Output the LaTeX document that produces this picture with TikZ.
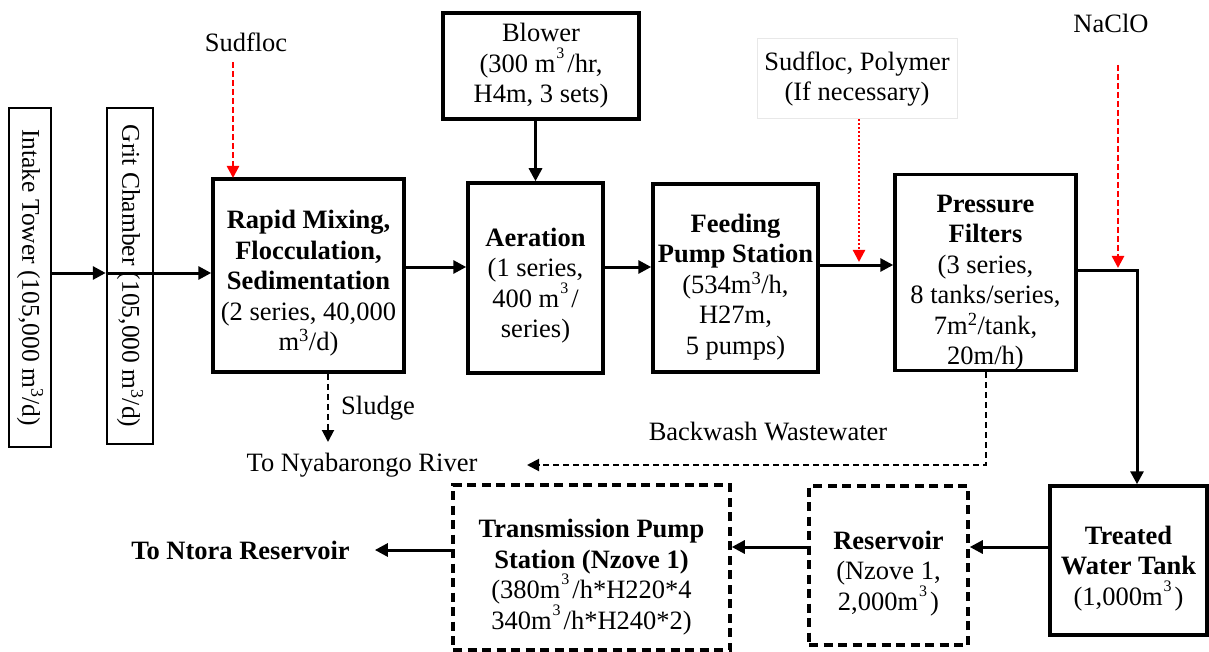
\documentclass[tikz,border=0pt]{standalone}
\usepackage{fontspec}
\setmainfont{Liberation Serif}
\usetikzlibrary{arrows.meta}

% body text size used throughout the flow sheet
\newcommand{\flowfont}{\fontsize{26.5}{30.5}\selectfont}
% superscript set high above the unit, as in the printed sheet
\newcommand{\hsup}[1]{\kern1pt\raisebox{14pt}{\fontsize{16}{16}\selectfont #1}\kern3pt}
% extra room above the first line of a unit's text
\newcommand{\topgap}[1]{\rule{0pt}{#1}}

\tikzset{
  unit/.style={draw, line width=3.5pt, align=center, inner sep=0pt, font=\flowfont},
  plannedunit/.style={unit, dash pattern=on 9pt off 5.5pt},
  inlet/.style={draw, line width=2.5pt, align=center, inner sep=0pt,
    font=\fontsize{25.5}{28}\selectfont, rotate=-90},
  label/.style={align=center, inner sep=0pt, font=\flowfont},
  flow/.style={line width=3pt, -{Triangle[length=13pt,width=13pt]}},
  dose/.style={red, line width=2.5pt, dash pattern=on 6pt off 3pt, -{Triangle[length=12pt,width=12pt]}},
  dosedot/.style={red, line width=2.2pt, dash pattern=on 2pt off 2pt, -{Triangle[length=12pt,width=12pt]}},
  waste/.style={line width=2pt, dash pattern=on 6pt off 4pt, -{Triangle[length=12pt,width=12pt]}}
}

\begin{document}
\begin{tikzpicture}[x=1pt,y=-1pt]
\useasboundingbox (0,0) rectangle (1209,652);

% raw water line
\node[inlet, minimum width=339pt, minimum height=42pt] (intake) at (30,277.5)
  {Intake Tower (105,000 m\textsuperscript{3}/d)};
\node[inlet, minimum width=336pt, minimum height=46pt] (grit) at (130,276)
  {Grit Chamber (105,000 m\textsuperscript{3}/d)};

% treatment units
\node[unit, minimum width=191pt, minimum height=193pt] (rapid) at (308.5,275.5)
  {\topgap{34pt}\textbf{Rapid Mixing,}\\\textbf{Flocculation,}\\\textbf{Sedimentation}\\(2 series, 40,000\\m\textsuperscript{3}/d)};
\node[unit, minimum width=196pt, minimum height=106pt] (blower) at (541,66)
  {Blower\\(300 m\hsup{3}/hr,\\H4m, 3 sets)};
\node[unit, minimum width=135pt, minimum height=190pt] (aeration) at (535.5,278)
  {\topgap{34pt}\textbf{Aeration}\\(1 series,\\400 m\hsup{3}/\\series)};
\node[unit, minimum width=165pt, minimum height=188pt] (feeding) at (735.5,278)
  {\topgap{36pt}\textbf{Feeding}\\\textbf{Pump Station}\\(534m\textsuperscript{3}/h,\\H27m,\\5 pumps)};
\node[unit, minimum width=181pt, minimum height=191pt] (filter) at (985.5,272.5)
  {\topgap{38pt}\textbf{Pressure}\\\textbf{Filters}\\(3 series,\\8 tanks/series,\\7m\textsuperscript{2}/tank,\\20m/h)};
\node[unit, minimum width=157pt, minimum height=149pt] (treated) at (1128.5,560.5)
  {\topgap{34pt}\textbf{Treated}\\\textbf{Water Tank}\\(1,000m\hsup{3})};

% Nzove 1 units
\node[plannedunit, minimum width=159pt, minimum height=159pt] (reservoir) at (888.5,565.5)
  {\topgap{34pt}\textbf{Reservoir}\\(Nzove 1,\\2,000m\hsup{3})};
\node[plannedunit, minimum width=277pt, minimum height=165pt] (transmission) at (591.5,567.5)
  {\topgap{38pt}\textbf{Transmission Pump}\\\textbf{Station (Nzove 1)}\\(380m\hsup{3}/h*H220*4\\340m\hsup{3}/h*H240*2)};

% chemicals
\node[label] (sudfloc) at (246,42) {Sudfloc};
\node[label, draw=gray!18, line width=1pt, minimum width=200pt, minimum height=80pt] (polymer) at (857,79)
  {Sudfloc, Polymer\\(If necessary)};
\node[label] (naclo) at (1111,23) {NaClO};

% outlets and labels
\node[label] (river) at (362,465) {To Nyabarongo River};
\node[label, inner xsep=25pt, font=\flowfont\bfseries] (ntora) at (240.5,550) {To Ntora Reservoir};
\node[label] (sludge) at (378,408) {Sludge};
\node[label] (backwash) at (768,432) {Backwash Wastewater};

% helper points
\coordinate (rowA) at (0,273);
\coordinate (rowB) at (0,267);
\coordinate (rowC) at (0,265);
\coordinate (rowD) at (0,547);
\coordinate (corner) at (1137,270);
\coordinate (dose1) at (233,178);
\coordinate (dose2) at (859,262);
\coordinate (dose3) at (1118,268);
\coordinate (sl) at (328,442);
\coordinate (bw) at (986,465);
\coordinate (bwend) at (527,465);

% main flow
\draw[flow] (intake.north |- rowA) -- (grit.south |- rowA);
\draw[flow] (grit.south |- rowA) -- (rapid.west |- rowA);
\draw[flow] (rapid.east |- rowB) -- (aeration.west |- rowB);
\draw[flow] (aeration.east |- rowB) -- (feeding.west |- rowB);
\draw[flow] (feeding.east |- rowC) -- (filter.west |- rowC);
\draw[flow] (blower.south -| aeration.north) -- (aeration.north);
\draw[flow] (filter.east |- corner) -- (corner) -- (corner |- treated.north);
\draw[flow] (treated.west |- rowD) -- (reservoir.east |- rowD);
\draw[flow] (reservoir.west |- rowD) -- (transmission.east |- rowD);
\draw[flow] (transmission.west |- ntora.east) -- (ntora.east);

% chemical dosing
\draw[dose] (dose1 |- 0,62) -- (dose1);
\draw[dosedot] (polymer.south -| dose2) -- (dose2);
\draw[dose] (dose3 |- 0,65) -- (dose3);

% wastes
\draw[waste] (rapid.south -| sl) -- (sl);
\draw[waste] (filter.south -| bw) -- (bw) -- (bwend);
\end{tikzpicture}
\end{document}
